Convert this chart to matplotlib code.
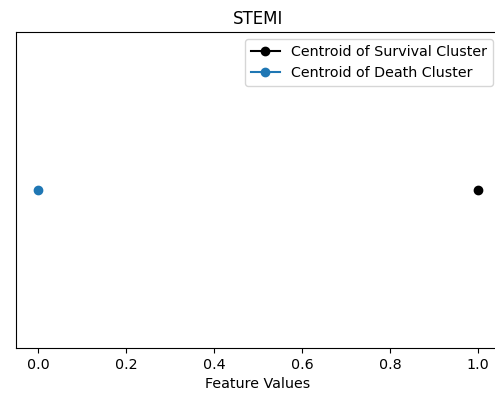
import matplotlib.pyplot as plt
import numpy as np

plt.rcParams['font.size'] = 10.3

# centroid values for the STEMI feature
feature = "STEMI"
survival_centroid = [1.0]
death_centroid = [0.0]
y_level = [0]

fig = plt.figure(figsize=(4.95, 3.96), dpi=100)
ax = fig.add_axes([16/495, 1-348/396, (500-16)/495, (348-32)/396])

ax.plot(survival_centroid, y_level, marker='o', color='black', label='Centroid of Survival Cluster')
ax.plot(death_centroid, y_level, marker='o', color='#1f77b4', label='Centroid of Death Cluster')

ax.set_title(feature, fontsize=12)
ax.set_xlabel("Feature Values")
ax.set_yticks([])
ax.set_xticks(np.arange(0, 1.01, 0.2))
ax.legend(loc='upper right', handlelength=2.0)

fig.savefig("out.png", dpi=100)
